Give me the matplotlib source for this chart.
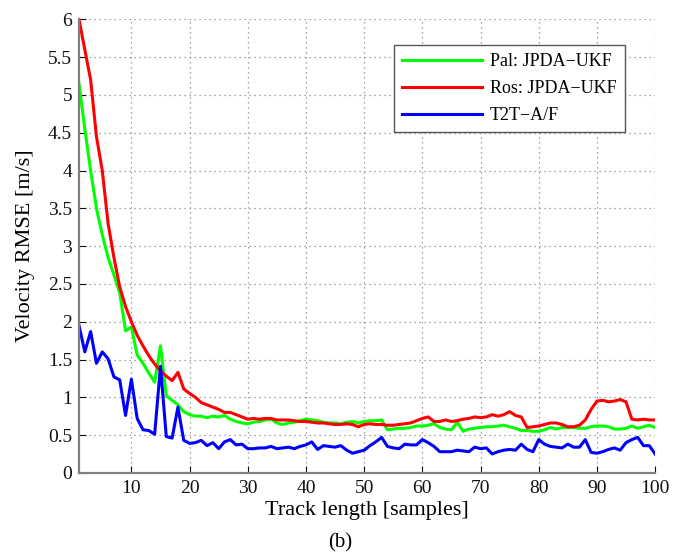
import numpy as np
import matplotlib
matplotlib.use("Agg")
import matplotlib.pyplot as plt
from matplotlib.ticker import FuncFormatter

# track length samples
track_len = np.arange(1, 101)

# velocity RMSE [m/s]
pal_ukf = [5.15, 4.55, 4.0, 3.5, 3.15, 2.85, 2.62, 2.38, 1.88, 1.93,
           1.56, 1.45, 1.32, 1.2, 1.68, 1.02, 0.96, 0.9, 0.81, 0.77,
           0.75, 0.75, 0.73, 0.75, 0.74, 0.76, 0.71, 0.68, 0.66, 0.65,
           0.67, 0.68, 0.70, 0.71, 0.66, 0.64, 0.66, 0.67, 0.69, 0.71,
           0.70, 0.69, 0.67, 0.66, 0.66, 0.65, 0.67, 0.68, 0.66, 0.68,
           0.69, 0.69, 0.70, 0.57, 0.58, 0.59, 0.59, 0.60, 0.62, 0.62,
           0.63, 0.65, 0.60, 0.58, 0.57, 0.67, 0.55, 0.58, 0.59, 0.60,
           0.61, 0.61, 0.62, 0.63, 0.61, 0.59, 0.56, 0.56, 0.55, 0.55,
           0.57, 0.60, 0.58, 0.60, 0.60, 0.60, 0.59, 0.59, 0.61, 0.62,
           0.62, 0.61, 0.58, 0.58, 0.59, 0.62, 0.59, 0.61, 0.63, 0.60]

ros_ukf = [6.0, 5.6, 5.2, 4.45, 4.0, 3.3, 2.85, 2.46, 2.2, 2.0,
           1.82, 1.68, 1.55, 1.44, 1.35, 1.28, 1.22, 1.33, 1.11, 1.05,
           1.0, 0.93, 0.9, 0.87, 0.84, 0.8, 0.8, 0.77, 0.74, 0.71,
           0.72, 0.71, 0.72, 0.72, 0.70, 0.70, 0.70, 0.69, 0.68, 0.68,
           0.67, 0.66, 0.66, 0.65, 0.64, 0.64, 0.65, 0.64, 0.61, 0.64,
           0.65, 0.64, 0.64, 0.63, 0.63, 0.64, 0.65, 0.66, 0.69, 0.72,
           0.74, 0.68, 0.68, 0.70, 0.68, 0.69, 0.71, 0.72, 0.74, 0.73,
           0.74, 0.77, 0.75, 0.77, 0.81, 0.76, 0.74, 0.60, 0.61, 0.62,
           0.64, 0.66, 0.66, 0.64, 0.61, 0.61, 0.63, 0.70, 0.84, 0.95,
           0.96, 0.94, 0.95, 0.97, 0.94, 0.71, 0.70, 0.71, 0.70, 0.70]

t2t_af = [1.95, 1.60, 1.87, 1.45, 1.60, 1.51, 1.27, 1.23, 0.76, 1.24,
          0.72, 0.57, 0.56, 0.51, 1.41, 0.48, 0.46, 0.87, 0.43, 0.39,
          0.40, 0.43, 0.36, 0.40, 0.32, 0.41, 0.44, 0.37, 0.38, 0.32,
          0.32, 0.33, 0.33, 0.35, 0.32, 0.33, 0.34, 0.32, 0.35, 0.37,
          0.41, 0.31, 0.36, 0.35, 0.34, 0.36, 0.30, 0.26, 0.28, 0.30,
          0.36, 0.41, 0.47, 0.35, 0.33, 0.32, 0.38, 0.37, 0.37, 0.44,
          0.40, 0.35, 0.28, 0.28, 0.28, 0.30, 0.29, 0.28, 0.34, 0.32,
          0.33, 0.25, 0.28, 0.30, 0.31, 0.30, 0.38, 0.31, 0.28, 0.44,
          0.38, 0.35, 0.34, 0.33, 0.38, 0.34, 0.34, 0.44, 0.27, 0.26,
          0.28, 0.31, 0.33, 0.30, 0.40, 0.44, 0.47, 0.36, 0.36, 0.25]

labels = ["Pal: JPDA\u2212UKF", "Ros: JPDA\u2212UKF", "T2T\u2212A/F"]

plt.rcParams['font.family'] = ['Liberation Serif', 'DejaVu Serif']

fig = plt.figure(figsize=(6.81, 5.55), dpi=100)
ax = fig.add_axes([0.116, 0.148, 0.846, 0.817])

ax.plot(track_len, pal_ukf, color=(0, 1, 0), lw=2.2, label=labels[0])
ax.plot(track_len, ros_ukf, color=(1, 0, 0), lw=2.2, label=labels[1])
ax.plot(track_len, t2t_af, color=(0, 0, 1), lw=2.2, label=labels[2])

ax.set_xlim(1, 100)
ax.set_ylim(0, 6)
ax.set_xticks(np.arange(10, 101, 10))
ax.set_yticks(np.arange(0, 6.01, 0.5))
ax.yaxis.set_major_formatter(FuncFormatter(lambda v, p: "%g" % v))

ax.grid(True, linestyle=(0, (1, 3)), color='#888888', linewidth=0.9)
for s in ['top', 'right']:
    ax.spines[s].set_visible(False)
for s in ['left', 'bottom']:
    ax.spines[s].set_color('#808080')
    ax.spines[s].set_linewidth(1.6)
ax.tick_params(direction='in', length=5, labelsize=14, colors='#111111', pad=5)

ax.set_xlabel("Track length [samples]", fontsize=16, labelpad=3)
ax.set_ylabel("Velocity RMSE [m/s]", fontsize=16, labelpad=9)
fig.text(0.5, 0.022, "(b)", ha='center', va='center', fontsize=15)

leg = ax.legend(loc='upper right', bbox_to_anchor=(0.947, 0.943), fontsize=13,
                fancybox=False, framealpha=1, edgecolor='#555555',
                handlelength=4.4, handletextpad=0.45, labelspacing=0.55,
                borderpad=0.45, borderaxespad=0)
leg.get_frame().set_linewidth(1.0)

fig.savefig("out.png", dpi=100)
